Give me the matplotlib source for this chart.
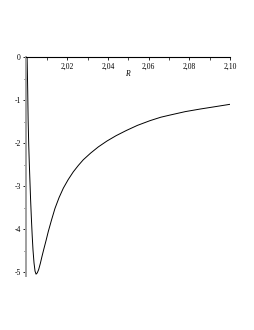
import numpy as np
import matplotlib
matplotlib.use("Agg")
import matplotlib.pyplot as plt
from matplotlib.ticker import MultipleLocator

# values
R = [2.0003, 2.0006, 2.0008, 2.0011, 2.0014, 2.0017, 2.0020, 2.0024, 2.0028,
     2.0032, 2.0037, 2.0042, 2.0047, 2.0053, 2.0060, 2.0068, 2.0076, 2.0085,
     2.0096, 2.0107, 2.0123, 2.0140, 2.0160, 2.0181, 2.0205, 2.0230, 2.0255,
     2.0279, 2.0315, 2.0353, 2.0395, 2.0440, 2.0490, 2.0545, 2.0607, 2.0660,
     2.0705, 2.0780, 2.0853, 2.0920, 2.1000]
E = [0.00, -0.80, -1.45, -2.05, -2.50, -2.90, -3.30, -3.75, -4.15,
     -4.49, -4.79, -4.98, -5.05, -5.02, -4.94, -4.80, -4.64, -4.47,
     -4.27, -4.06, -3.79, -3.52, -3.27, -3.05, -2.85, -2.67, -2.52,
     -2.39, -2.235, -2.09, -1.955, -1.83, -1.71, -1.59, -1.48, -1.40,
     -1.35, -1.27, -1.21, -1.16, -1.10]

xtick_vals = [2.02, 2.04, 2.06, 2.08, 2.10]
xtick_labels = ["2,02", "2,04", "2,06", "2,08", "2,10"]
ytick_vals = [0, -1, -2, -3, -4, -5]
ytick_labels = ["0", "-1", "-2", "-3", "-4", "-5"]

plt.rcParams["font.family"] = ["Liberation Serif", "DejaVu Serif"]
plt.rcParams["axes.unicode_minus"] = False

fig = plt.figure(figsize=(2.55, 3.3), dpi=100)
ax = fig.add_axes([0.1039, 0.1627, 0.798, 0.6645])

ax.plot(R, E, color="black", linewidth=0.7)

ax.set_xlim(2.0, 2.10)
ax.set_ylim(-5.1, 0)

ax.spines["top"].set_visible(False)
ax.spines["right"].set_visible(False)
ax.spines["bottom"].set_position(("data", 0))
ax.spines["bottom"].set_color("black")
ax.spines["bottom"].set_linewidth(0.8)
ax.spines["left"].set_color("#a0a0a0")
ax.spines["left"].set_linewidth(1.4)

ax.set_xticks(xtick_vals)
ax.set_xticklabels(xtick_labels)
ax.xaxis.set_minor_locator(MultipleLocator(0.01))
ax.set_yticks(ytick_vals)
ax.set_yticklabels(ytick_labels)
ax.yaxis.set_minor_locator(MultipleLocator(0.5))

ax.tick_params(axis="both", which="major", labelsize=5.5, length=2.5,
               width=0.6, color="black", pad=1.5)
ax.tick_params(axis="both", which="minor", length=1.8, width=0.5, color="black")

ax.text(2.0495, -0.4, "R", fontsize=5.5, style="italic", ha="center", va="center")

fig.savefig("out.png", dpi=100)
